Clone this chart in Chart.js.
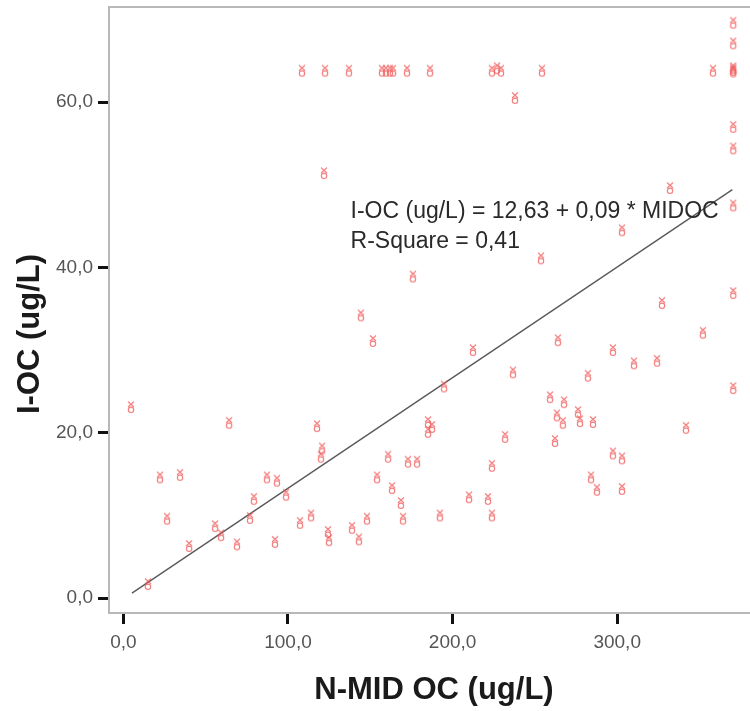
<!DOCTYPE html>
<html>
<head>
<meta charset="utf-8">
<script src="https://cdn.jsdelivr.net/npm/chart.js@4.4.1/dist/chart.umd.min.js"></script>
<style>
  html, body { margin: 0; padding: 0; background: #fff; overflow: hidden; }
  #wrap { width: 750px; height: 711px; position: relative; }
</style>
</head>
<body>
<div id="wrap"><canvas id="scatterChart" width="750" height="711"></canvas></div>
<script>
// N-MID OC values (x) and matching I-OC values (y)
const midocValues = [
  108.5, 122.5, 137.0, 157.1, 159.5, 162.0, 163.8, 172.3, 186.3, 223.9, 227.0, 229.4, 254.3, 358.2,
  370.5, 370.5, 370.5, 370.5, 370.5, 370.5, 370.5, 370.5, 370.5, 370.5,
  237.9, 121.9, 175.9, 144.3, 151.6, 4.6, 64.2, 117.6, 120.7, 120.0,
  22.2, 34.4, 87.2, 93.3, 98.8, 79.3, 76.9, 26.5, 55.7, 59.3,
  39.9, 69.0, 92.1, 14.9, 107.3, 114.0, 124.3, 124.9, 138.9, 143.1,
  148.0, 154.1, 160.8, 163.2, 168.6, 169.9, 172.9, 178.4, 185.1, 187.5,
  185.1, 192.3, 194.8, 210.0, 212.4, 221.5, 223.9, 223.9, 231.9, 236.7,
  253.7, 259.2, 262.2, 263.4, 264.0, 267.0, 267.7, 276.2, 277.4, 282.2,
  284.1, 285.3, 287.7, 297.4, 297.4, 302.9, 302.9, 302.9, 310.2, 324.2,
  327.2, 332.1, 341.8, 352.1
];
const iocValues = [
  63.8, 63.8, 63.8, 63.8, 63.8, 63.8, 63.8, 63.8, 63.8, 63.8, 64.1, 63.8, 63.8, 63.8,
  69.6, 67.1, 63.9, 64.1, 63.7, 57.0, 54.4, 47.5, 36.9, 25.4,
  60.5, 51.4, 38.9, 34.2, 31.1, 23.1, 21.2, 20.8, 18.1, 17.1,
  14.6, 14.9, 14.6, 14.2, 12.5, 12.0, 9.7, 9.6, 8.7, 7.6,
  6.3, 6.5, 6.8, 1.7, 9.1, 10.0, 8.0, 7.0, 8.5, 7.1,
  9.6, 14.6, 17.1, 13.3, 11.5, 9.6, 16.5, 16.5, 21.3, 20.7,
  20.1, 10.0, 25.6, 12.2, 30.0, 12.0, 16.0, 10.0, 19.5, 27.3,
  41.1, 24.3, 19.0, 22.1, 31.2, 21.2, 23.7, 22.5, 21.4, 26.9,
  14.6, 21.3, 13.1, 30.0, 17.5, 16.9, 13.2, 44.5, 28.4, 28.7,
  35.7, 49.6, 20.6, 32.1
];

// fit line end points as drawn
const fitX = [5.2, 370.0];
const fitY = [0.6, 49.4];

const xTicks = [0, 100, 200, 300];
const yTicks = [0, 20, 40, 60];
const equationLines = ["I-OC (ug/L) = 12,63 + 0,09 * MIDOC", "R-Square = 0,41"];
const xTitle = "N-MID OC (ug/L)";
const yTitle = "I-OC (ug/L)";

const FONT = "'Liberation Sans', Arial, sans-serif";

// small "x over o" marker like the original
function makeMarker() {
  const c = document.createElement("canvas");
  c.width = 10;
  c.height = 14;
  const g = c.getContext("2d");
  g.strokeStyle = "rgba(240, 90, 90, 0.8)";
  g.lineWidth = 1.1;
  g.beginPath();
  g.moveTo(2, 1.5); g.lineTo(8, 7);
  g.moveTo(8, 1.5); g.lineTo(2, 7);
  g.stroke();
  g.beginPath();
  g.arc(5, 9.8, 2.7, 0, Math.PI * 2);
  g.stroke();
  return c;
}

const commaFmt = (v) => Number(v).toFixed(1).replace(".", ",");

const framePlugin = {
  id: "frameAndText",
  afterDraw(chart) {
    const { ctx, chartArea, scales } = chart;
    ctx.save();
    // top frame line
    ctx.strokeStyle = "#b8b8b8";
    ctx.lineWidth = 2;
    ctx.beginPath();
    ctx.moveTo(chartArea.left, chartArea.top);
    ctx.lineTo(chart.width, chartArea.top);
    ctx.stroke();

    // equation
    ctx.fillStyle = "#2a2a2a";
    ctx.font = "23px " + FONT;
    ctx.textAlign = "left";
    ctx.textBaseline = "alphabetic";
    const ex = scales.x.getPixelForValue(138.0);
    const ey = scales.y.getPixelForValue(45.97);
    ctx.fillText(equationLines[0], ex, ey);
    ctx.fillText(equationLines[1], ex, ey + 29.5);

    // axis titles
    ctx.fillStyle = "#1a1a1a";
    ctx.font = "bold 31px " + FONT;
    ctx.textAlign = "center";
    ctx.textBaseline = "middle";
    ctx.fillText(xTitle, 434, 690);
    ctx.translate(30, 334);
    ctx.rotate(-Math.PI / 2);
    ctx.fillText(yTitle, 0, 0);
    ctx.restore();
  },
};

const ctx = document.getElementById("scatterChart").getContext("2d");
let scatterChart = new Chart(ctx, {
  type: "scatter",
  data: {
    datasets: [
      {
        label: "I-OC",
        data: midocValues.map((x, i) => ({ x: x, y: iocValues[i] })),
        pointStyle: makeMarker(),
        pointRadius: 5,
        order: 0,
      },
      {
        type: "line",
        label: "fit",
        data: fitX.map((x, i) => ({ x: x, y: fitY[i] })),
        borderColor: "#5a5a5a",
        borderWidth: 1.4,
        pointRadius: 0,
        fill: false,
        order: 1,
      },
    ],
  },
  options: {
    responsive: false,
    animation: false,
    events: [],
    layout: { autoPadding: false, padding: { top: 7, right: 0, left: 0, bottom: 0 } },
    plugins: {
      legend: { display: false },
      tooltip: { enabled: false },
    },
    scales: {
      x: {
        type: "linear",
        min: -8.75,
        max: 380.7,
        afterBuildTicks(scale) {
          scale.ticks = xTicks.map((v) => ({ value: v }));
        },
        afterFit(scale) {
          scale.height = 98;
          scale.paddingLeft = 0;
          scale.paddingRight = 0;
        },
        border: { color: "#b8b8b8", width: 2 },
        grid: {
          drawOnChartArea: false,
          tickLength: 11,
          tickWidth: 3,
          tickColor: "#111",
        },
        ticks: {
          padding: 7,
          color: "#555",
          font: { family: FONT, size: 19 },
          callback: commaFmt,
        },
      },
      y: {
        type: "linear",
        min: -1.81,
        max: 71.5,
        afterBuildTicks(scale) {
          scale.ticks = yTicks.map((v) => ({ value: v }));
        },
        afterFit(scale) {
          scale.width = 109;
          scale.paddingTop = 0;
          scale.paddingBottom = 0;
        },
        border: { color: "#b8b8b8", width: 2 },
        grid: {
          drawOnChartArea: false,
          tickLength: 11,
          tickWidth: 3,
          tickColor: "#111",
        },
        ticks: {
          padding: 5,
          color: "#555",
          font: { family: FONT, size: 19 },
          callback: commaFmt,
        },
      },
    },
  },
  plugins: [framePlugin],
});
</script>
</body>
</html>
